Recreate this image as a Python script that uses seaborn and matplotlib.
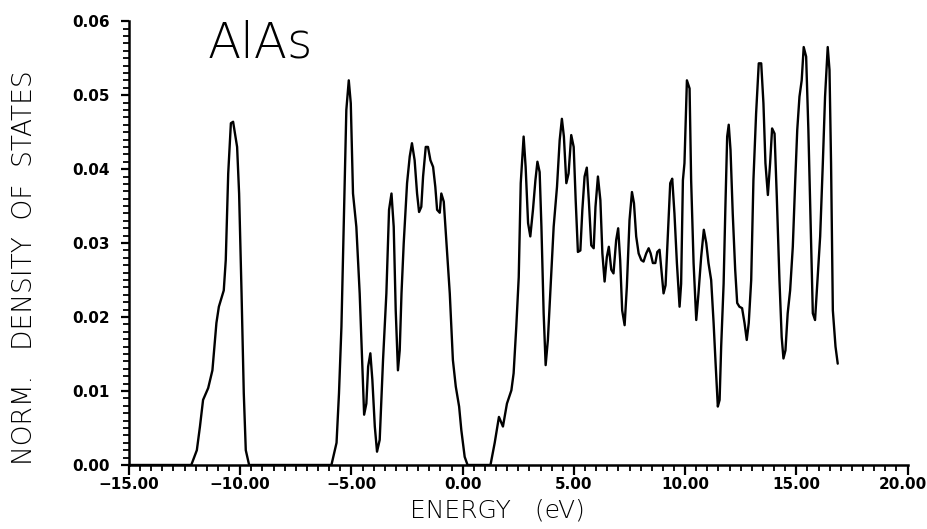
import pandas as pd
import matplotlib
matplotlib.use("Agg")
import matplotlib.pyplot as plt
from matplotlib.ticker import MultipleLocator, FuncFormatter
import matplotlib.transforms as mtransforms
import seaborn as sns

# Density of states (energy in eV, normalised DOS)
band1_e = [-15.0, -12.2, -11.95, -11.81, -11.67, -11.44, -11.25, -11.07, -10.96, -10.74,
           -10.65, -10.54, -10.42, -10.32, -10.14, -10.05, -9.94, -9.84, -9.75, -9.6]
band1_d = [0.0, 0.0, 0.002, 0.0052, 0.0088, 0.0104, 0.0128, 0.0192, 0.0214, 0.0236,
           0.0277, 0.0394, 0.0462, 0.0464, 0.0430, 0.0367, 0.0232, 0.0097, 0.002, 0.0]

band2_e = [-5.9, -5.67, -5.56, -5.45, -5.35, -5.23, -5.12, -5.03, -4.93, -4.78,
           -4.63, -4.52, -4.43, -4.33, -4.25, -4.15, -4.06, -3.95, -3.85, -3.73,
           -3.58, -3.43, -3.31, -3.20, -3.10, -3.01, -2.91, -2.83, -2.75, -2.65,
           -2.56, -2.50, -2.38, -2.28, -2.16, -2.05, -1.96, -1.86, -1.78, -1.66,
           -1.56, -1.45, -1.33, -1.23, -1.15, -1.03, -0.96, -0.85, -0.73, -0.58,
           -0.44, -0.31, -0.16, -0.06, 0.09, 0.22]
band2_d = [0.0, 0.003, 0.0097, 0.0187, 0.0322, 0.048, 0.052, 0.0489, 0.0367, 0.0322,
           0.0232, 0.0142, 0.0068, 0.0083, 0.0133, 0.0151, 0.0115, 0.0052, 0.0018, 0.0034,
           0.0142, 0.0232, 0.0345, 0.0367, 0.0322, 0.0209, 0.0128, 0.0155, 0.0232, 0.030,
           0.0349, 0.0381, 0.0417, 0.0435, 0.0412, 0.0367, 0.0342, 0.0349, 0.039, 0.043,
           0.043, 0.0412, 0.0403, 0.0376, 0.0345, 0.0341, 0.0367, 0.0356, 0.030, 0.0232,
           0.0142, 0.0106, 0.0079, 0.0047, 0.0011, 0.0]

band3_e = [1.25, 1.44, 1.63, 1.81, 1.99, 2.19, 2.29, 2.41, 2.52, 2.61,
           2.74, 2.83, 2.94, 3.04, 3.16, 3.27, 3.36, 3.46, 3.54, 3.64,
           3.73, 3.83, 3.95, 4.09, 4.24, 4.36, 4.46, 4.55, 4.66, 4.76,
           4.88, 4.99, 5.08, 5.18, 5.29, 5.38, 5.48, 5.58, 5.67, 5.78,
           5.89, 5.97, 6.08, 6.19, 6.28, 6.38, 6.48, 6.57, 6.68, 6.78,
           6.90, 6.99, 7.08, 7.17, 7.28, 7.38, 7.50, 7.61, 7.70, 7.80,
           7.91, 8.03, 8.13, 8.25, 8.36, 8.45, 8.55, 8.66, 8.75, 8.85,
           8.95, 9.03, 9.12, 9.22, 9.33, 9.42, 9.52, 9.63, 9.75, 9.82,
           9.90, 9.97, 10.08, 10.20, 10.27, 10.38, 10.50, 10.60, 10.72, 10.84,
           10.95, 11.05, 11.17, 11.28, 11.37, 11.47, 11.55, 11.62, 11.73, 11.81,
           11.89, 11.96, 12.04, 12.14, 12.25, 12.34, 12.44, 12.56, 12.67, 12.77,
           12.86, 12.97, 13.07, 13.19, 13.31, 13.42, 13.52, 13.61, 13.72, 13.82,
           13.91, 14.02, 14.12, 14.24, 14.34, 14.42, 14.51, 14.61, 14.72, 14.84,
           14.95, 15.04, 15.14, 15.24, 15.33, 15.44, 15.54, 15.63, 15.74, 15.84,
           15.93, 16.07, 16.19, 16.29, 16.41, 16.49, 16.56, 16.64, 16.76, 16.86]
band3_d = [0.0, 0.003, 0.0065, 0.0052, 0.0083, 0.0101, 0.0124, 0.0187, 0.0254, 0.0381,
           0.0444, 0.0403, 0.0327, 0.0309, 0.0345, 0.0385, 0.041, 0.0396, 0.0322, 0.0205,
           0.0135, 0.0169, 0.0241, 0.0322, 0.0376, 0.0439, 0.0468, 0.0444, 0.0381, 0.0394,
           0.0446, 0.043, 0.0358, 0.0288, 0.029, 0.0345, 0.039, 0.0402, 0.0358, 0.0297,
           0.0293, 0.0349, 0.039, 0.0358, 0.0286, 0.0248, 0.0281, 0.0295, 0.0264, 0.0259,
           0.0304, 0.032, 0.0277, 0.0209, 0.0189, 0.0241, 0.0331, 0.0369, 0.0354, 0.0309,
           0.0286, 0.0277, 0.0275, 0.0286, 0.0293, 0.0286, 0.0273, 0.0273, 0.0288, 0.0291,
           0.0259, 0.0232, 0.0243, 0.0309, 0.0381, 0.0387, 0.034, 0.0273, 0.0214, 0.0245,
           0.0385, 0.0408, 0.052, 0.0509, 0.0385, 0.0273, 0.0196, 0.0232, 0.0281, 0.0318,
           0.030, 0.0273, 0.025, 0.0192, 0.0137, 0.0079, 0.0088, 0.016, 0.0245, 0.0349,
           0.0444, 0.046, 0.0426, 0.034, 0.0264, 0.0219, 0.0214, 0.0212, 0.0192, 0.0169,
           0.0192, 0.025, 0.0385, 0.0475, 0.0543, 0.0543, 0.0489, 0.0408, 0.0365, 0.0408,
           0.0455, 0.0448, 0.0363, 0.025, 0.0173, 0.0144, 0.0155, 0.0205, 0.0236, 0.0295,
           0.0385, 0.0453, 0.0498, 0.052, 0.0565, 0.0552, 0.0453, 0.034, 0.0205, 0.0196,
           0.0241, 0.0309, 0.0408, 0.0498, 0.0565, 0.0534, 0.0408, 0.0209, 0.016, 0.0137]

energy = band1_e + band2_e + band3_e
dos = band1_d + band2_d + band3_d

df = pd.DataFrame({"energy": energy, "dos": dos})

sns.set_style("ticks")
plt.rcParams["font.family"] = ["DejaVu Sans"]
plt.rcParams.update({"text.color": "black", "axes.labelcolor": "black",
                     "xtick.color": "black", "ytick.color": "black"})

fig = plt.figure(figsize=(9.28, 5.29), dpi=100)
ax = fig.add_axes([0.139, 0.121, 0.839, 0.839])

sns.lineplot(data=df, x="energy", y="dos", color="black", linewidth=1.7,
             sort=False, estimator=None, ax=ax)

ax.set_xlim(-15, 20)
ax.set_ylim(0, 0.06)
ax.xaxis.set_major_locator(MultipleLocator(5))
ax.xaxis.set_minor_locator(MultipleLocator(0.5))
ax.yaxis.set_major_locator(MultipleLocator(0.01))
ax.yaxis.set_minor_locator(MultipleLocator(0.001))

two_dec = FuncFormatter(lambda v, pos: f"{v:.2f}".replace("-", "\u2212"))
ax.xaxis.set_major_formatter(two_dec)
ax.yaxis.set_major_formatter(two_dec)

ax.tick_params(which="major", direction="out", length=7, width=1.6, color="black",
               labelcolor="black", labelsize=11, pad=2)
ax.tick_params(which="minor", direction="out", length=4.5, width=1.3, color="black")
ax.tick_params(axis="y", which="major", length=6, pad=8)
for lab in ax.get_xticklabels() + ax.get_yticklabels():
    lab.set_fontweight("bold")

# the last energy label sits at the figure edge, nudge it a little left
fig.canvas.draw()
last = [t for t in ax.get_xticklabels() if t.get_text() == "20.00"]
for t in last:
    t.set_transform(t.get_transform() +
                    mtransforms.ScaledTranslation(-5 / 100, 0, fig.dpi_scale_trans))

sns.despine(ax=ax)
for side in ["left", "bottom"]:
    ax.spines[side].set_linewidth(1.8)
    ax.spines[side].set_color("black")

ax.set_xlabel("ENERGY   (eV)", fontsize=18, fontweight="light", color="black")
ax.xaxis.set_label_coords(0.473, -0.076)
ax.set_ylabel("NORM.   DENSITY  OF  STATES", fontsize=19, fontweight="light", color="black")
ax.yaxis.set_label_coords(-0.118, 0.444)

ax.text(0.101, 0.919, "AlAs", transform=ax.transAxes, fontsize=35,
        fontweight="light", color="black", ha="left", va="baseline")

fig.savefig("out.png", dpi=100)
